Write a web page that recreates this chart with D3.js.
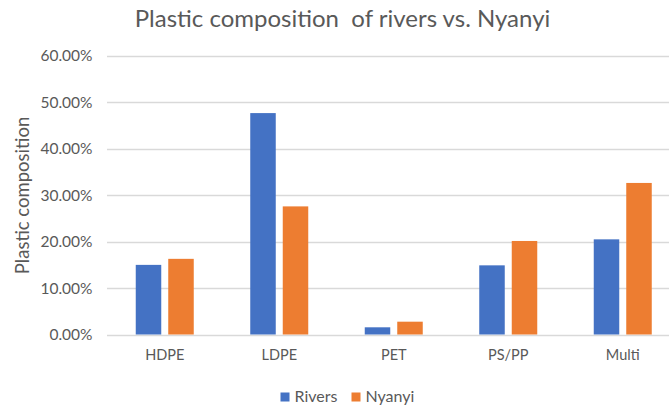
<!DOCTYPE html>
<html>
<head>
<meta charset="utf-8">
<script src="https://cdn.jsdelivr.net/npm/d3@7"></script>
<style>
  html, body { margin: 0; padding: 0; background: #fff; }
  svg { display: block; }
  text { font-family: Lato, "Open Sans", sans-serif; fill: #595959; }
</style>
</head>
<body>
<div id="chart"></div>
<script>
const categories = ["HDPE", "LDPE", "PET", "PS/PP", "Multi"];
const seriesNames = ["Rivers", "Nyanyi"];
const rivers = [0.150, 0.477, 0.0155, 0.149, 0.205];
const nyanyi = [0.163, 0.276, 0.0276, 0.2015, 0.3265];
const yTicks = [0, 0.1, 0.2, 0.3, 0.4, 0.5, 0.6];
const colors = ["#4472C4", "#ED7D31"];
const title = "Plastic composition  of rivers vs. Nyanyi";
const yTitle = "Plastic composition";

const W = 669, H = 410;
const svg = d3.select("#chart").append("svg").attr("width", W).attr("height", H);

const x0 = d3.scaleBand().domain(categories).range([107.5, 680]).paddingInner(0).paddingOuter(0);
const y = d3.scaleLinear().domain([0, 0.6]).range([334.5, 56]);

// gridlines
svg.append("g").selectAll("line").data(yTicks).join("line")
  .attr("x1", 107).attr("x2", W)
  .attr("y1", d => Math.round(y(d)) + 0.5).attr("y2", d => Math.round(y(d)) + 0.5)
  .attr("stroke", "#d9d9d9").attr("stroke-width", 1.3);

// y axis labels
const yAxis = d3.axisLeft(y).tickValues(yTicks).tickFormat(d => (d * 100).toFixed(2) + "%").tickSize(0).tickPadding(0);
const ya = svg.append("g").attr("transform", "translate(92.5,0)").call(yAxis);
ya.select(".domain").remove();
ya.selectAll("text").style("font-family", "Lato, sans-serif").style("font-size", "15.5px").attr("fill", "#595959");

// bars
const barW = 25.5, gap = 7;
const data = categories.map((c, i) => ({ c, vals: [rivers[i], nyanyi[i]] }));
const groups = svg.append("g").selectAll("g").data(data).join("g")
  .attr("transform", d => `translate(${x0(d.c) + x0.bandwidth() / 2},0)`);
groups.selectAll("rect").data(d => d.vals.map((v, k) => ({ v, k }))).join("rect")
  .attr("x", d => d.k === 0 ? -(barW + gap / 2) : gap / 2)
  .attr("width", barW)
  .attr("y", d => y(d.v))
  .attr("height", d => y(0) - y(d.v))
  .attr("fill", d => colors[d.k]);

// x axis labels
const xAxis = d3.axisBottom(x0).tickSize(0).tickPadding(0);
const xa = svg.append("g").attr("transform", "translate(0,349.5)").call(xAxis);
xa.select(".domain").remove();
xa.selectAll("text").style("font-family", "Lato, sans-serif").style("font-size", "14.5px").attr("fill", "#595959");

// title
svg.append("text").attr("x", 342.5).attr("y", 27).attr("text-anchor", "middle")
  .style("font-size", "24px").style("white-space", "pre").text(title);

// y title
svg.append("text").attr("transform", "translate(29,195.5) rotate(-90)").attr("text-anchor", "middle")
  .style("font-size", "18.5px").text(yTitle);

// legend
const legend = svg.append("g").attr("transform", "translate(280.5,392.5)");
const li = legend.selectAll("g").data(seriesNames).join("g")
  .attr("transform", (d, i) => `translate(${i * 71},0)`);
li.append("rect").attr("width", 9).attr("height", 9).attr("fill", (d, i) => colors[i]);
li.append("text").attr("x", 14).attr("y", 9.5).style("font-size", "16px").text(d => d);
</script>
</body>
</html>
